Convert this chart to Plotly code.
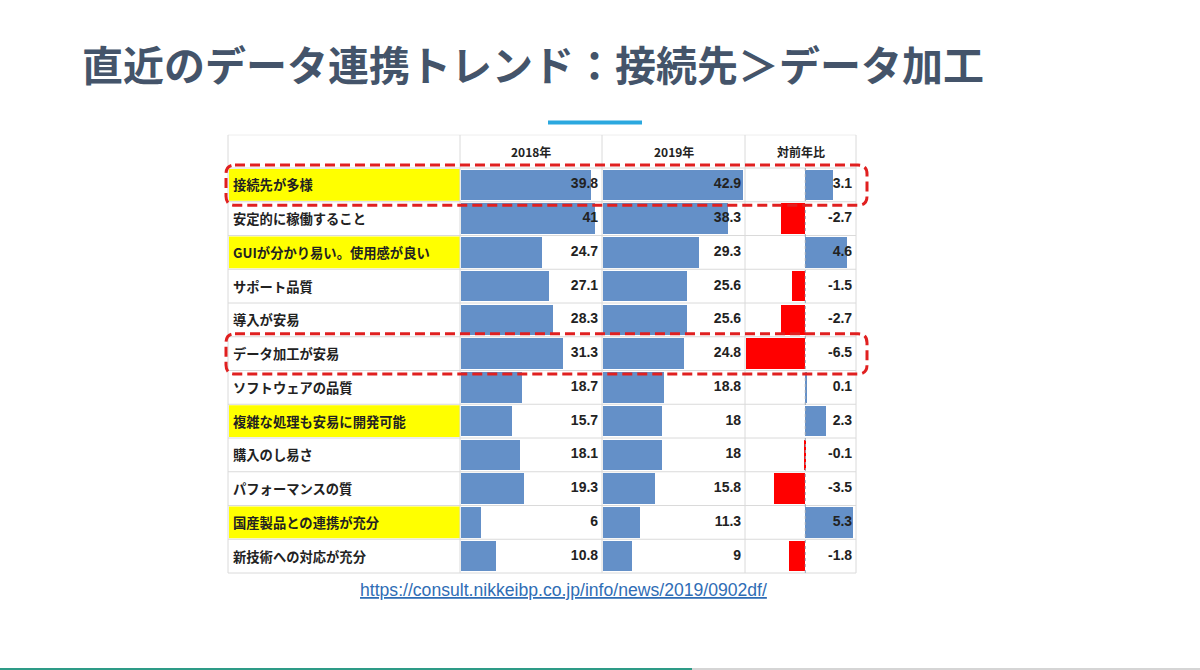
import plotly.graph_objects as go

W, H = 1200, 670

# ---------------- data ----------------
categories = [
    "接続先が多様",
    "安定的に稼働すること",
    "GUIが分かり易い。使用感が良い",
    "サポート品質",
    "導入が安易",
    "データ加工が安易",
    "ソフトウェアの品質",
    "複雑な処理も安易に開発可能",
    "購入のし易さ",
    "パフォーマンスの質",
    "国産製品との連携が充分",
    "新技術への対応が充分",
]
v2018 = [39.8, 41, 24.7, 27.1, 28.3, 31.3, 18.7, 15.7, 18.1, 19.3, 6, 10.8]
v2019 = [42.9, 38.3, 29.3, 25.6, 25.6, 24.8, 18.8, 18, 18, 15.8, 11.3, 9]
yoy = [3.1, -2.7, 4.6, -1.5, -2.7, -6.5, 0.1, 2.3, -0.1, -3.5, 5.3, -1.8]
highlighted = ["接続先が多様", "GUIが分かり易い。使用感が良い",
               "複雑な処理も安易に開発可能", "国産製品との連携が充分"]
boxed = ["接続先が多様", "データ加工が安易"]
col_headers = ["2018年", "2019年", "対前年比"]
title_text = "直近のデータ連携トレンド：接続先＞データ加工"
source_url = "https://consult.nikkeibp.co.jp/info/news/2019/0902df/"

# ---------------- geometry helpers ----------------
def px(x):
    return x / W

def py(y):
    return 1 - y / H

cols = [228, 460, 602, 745, 856]
table_top, header_bottom, table_bottom = 135, 168, 573
n = len(categories)
row_h = (table_bottom - header_bottom) / n
ys = list(range(n))

BLUE = "#6490C8"
RED = "#FF0000"
TXT = "#222222"
GRID = "#DADADA"
JP = "Noto Sans CJK JP"

fig = go.Figure()

r2018 = [0, 43.2]
r2019 = [0, 43.5]
ryoy = [-6.55, 5.6]

fig.add_trace(go.Bar(x=v2018, y=ys, orientation="h", width=0.91,
                     marker=dict(color=BLUE, line=dict(width=0)),
                     xaxis="x", yaxis="y", hoverinfo="x"))
fig.add_trace(go.Bar(x=v2019, y=ys, orientation="h", width=0.91,
                     marker=dict(color=BLUE, line=dict(width=0)),
                     xaxis="x2", yaxis="y", hoverinfo="x"))
fig.add_trace(go.Bar(x=yoy, y=ys, orientation="h", width=0.91,
                     marker=dict(color=[BLUE if v >= 0 else RED for v in yoy],
                                 line=dict(width=0)),
                     xaxis="x3", yaxis="y", hoverinfo="x"))

def fmt(v):
    return ("%g" % v)

for vals, ax, rng in [(v2018, "x", r2018), (v2019, "x2", r2019), (yoy, "x3", ryoy)]:
    fig.add_trace(go.Scatter(
        x=[rng[1]] * n, y=ys, mode="text", text=[f"<b>{fmt(v)}</b> " for v in vals],
        textposition="middle left", cliponaxis=False,
        textfont=dict(family="Liberation Sans Narrow, Liberation Sans, Arial", size=14, color=TXT),
        xaxis=ax, yaxis="y", hoverinfo="skip"))

shapes = []
# yellow highlighted label cells
for i, c in enumerate(categories):
    if c in highlighted:
        shapes.append(dict(type="rect", xref="paper", yref="y",
                           x0=px(cols[0] + 1), x1=px(cols[1]), y0=i - 0.47, y1=i + 0.47,
                           fillcolor="#FFFF00", line=dict(width=0), layer="below"))
# horizontal grid lines
for k in range(n + 1):
    yy = header_bottom + k * row_h
    shapes.append(dict(type="line", xref="paper", yref="paper",
                       x0=px(cols[0]), x1=px(cols[-1]), y0=py(yy), y1=py(yy),
                       line=dict(color=GRID, width=1), layer="below"))
shapes.append(dict(type="line", xref="paper", yref="paper",
                   x0=px(cols[0]), x1=px(cols[-1]), y0=py(table_top), y1=py(table_top),
                   line=dict(color="#EEEEEE", width=1), layer="below"))
# vertical grid lines
for xx in cols:
    shapes.append(dict(type="line", xref="paper", yref="paper",
                       x0=px(xx), x1=px(xx), y0=py(table_top), y1=py(table_bottom),
                       line=dict(color=GRID, width=1), layer="below"))
# zero axis for year-on-year column
shapes.append(dict(type="line", xref="x3", yref="paper", x0=0, x1=0,
                   y0=py(header_bottom), y1=py(table_bottom),
                   line=dict(color="#9AA5B5", width=1, dash="dot")))

# red dashed rounded boxes
def rounded_path(x0, y0, x1, y1, r):
    rx, ry = r / W, r / H
    X0, X1, Y0, Y1 = px(x0), px(x1), py(y0), py(y1)
    return (f"M {X0+rx},{Y0} L {X1-rx},{Y0} Q {X1},{Y0} {X1},{Y0-ry} "
            f"L {X1},{Y1+ry} Q {X1},{Y1} {X1-rx},{Y1} "
            f"L {X0+rx},{Y1} Q {X0},{Y1} {X0},{Y1+ry} "
            f"L {X0},{Y0-ry} Q {X0},{Y0} {X0+rx},{Y0} Z")

for i, c in enumerate(categories):
    if c in boxed:
        top = header_bottom + i * row_h - 3
        bot = header_bottom + (i + 1) * row_h + 3.5
        shapes.append(dict(type="path", xref="paper", yref="paper",
                           path=rounded_path(226, top, 867, bot, 9),
                           line=dict(color="#E02020", width=3, dash="10px,5px")))

# title accent line
shapes.append(dict(type="line", xref="paper", yref="paper",
                   x0=px(548), x1=px(642), y0=py(122.5), y1=py(122.5),
                   line=dict(color="#2BA8DF", width=4)))
# bottom progress bar
shapes.append(dict(type="line", xref="paper", yref="paper",
                   x0=0, x1=px(692), y0=py(669), y1=py(669),
                   line=dict(color="#2E9B87", width=2)))
shapes.append(dict(type="line", xref="paper", yref="paper",
                   x0=px(692), x1=1, y0=py(669), y1=py(669),
                   line=dict(color="#D5D5D5", width=2)))

annotations = []
# row labels
for i, c in enumerate(categories):
    annotations.append(dict(xref="paper", yref="y", x=px(231), y=i, text=f"<b>{c}</b>",
                            showarrow=False, xanchor="left", yanchor="middle",
                            font=dict(family=JP, size=13.3, color=TXT)))
# column headers
for k, h in enumerate(col_headers):
    annotations.append(dict(xref="paper", yref="paper",
                            x=px((cols[k + 1] + cols[k + 2]) / 2), y=py(151.5),
                            text=f"<b>{h}</b>", showarrow=False,
                            xanchor="center", yanchor="middle",
                            font=dict(family=JP, size=12, color=TXT)))
# title
annotations.append(dict(xref="paper", yref="paper", x=px(80), y=py(63),
                        text=f"<b>{title_text}</b>", showarrow=False,
                        xanchor="left", yanchor="middle",
                        font=dict(family=JP, size=41, color="#44546A")))
# source url
annotations.append(dict(xref="paper", yref="paper", x=px(563), y=py(590),
                        text=f"<u>{source_url}</u>", showarrow=False,
                        xanchor="center", yanchor="middle",
                        font=dict(family="Liberation Sans, Arial", size=17.6, color="#2F6DB5")))

ax_common = dict(showgrid=False, zeroline=False, showticklabels=False,
                 ticks="", showline=False, fixedrange=True)
fig.update_layout(
    width=W, height=H,
    margin=dict(l=0, r=0, t=0, b=0),
    paper_bgcolor="white", plot_bgcolor="rgba(0,0,0,0)",
    showlegend=False, barmode="overlay", bargap=0,
    xaxis=dict(domain=[px(461), px(602)], range=r2018, anchor="y", **ax_common),
    xaxis2=dict(domain=[px(603), px(745)], range=r2019, anchor="y", **ax_common),
    xaxis3=dict(domain=[px(746), px(856)], range=ryoy, anchor="y", **ax_common),
    yaxis=dict(domain=[py(table_bottom), py(header_bottom)], range=[n - 0.5, -0.5],
               anchor="x", **ax_common),
    shapes=shapes, annotations=annotations,
)

fig.write_html("out.html", config={"displayModeBar": False},
               post_script="document.body.style.margin='0px';document.body.style.overflow='hidden';")
